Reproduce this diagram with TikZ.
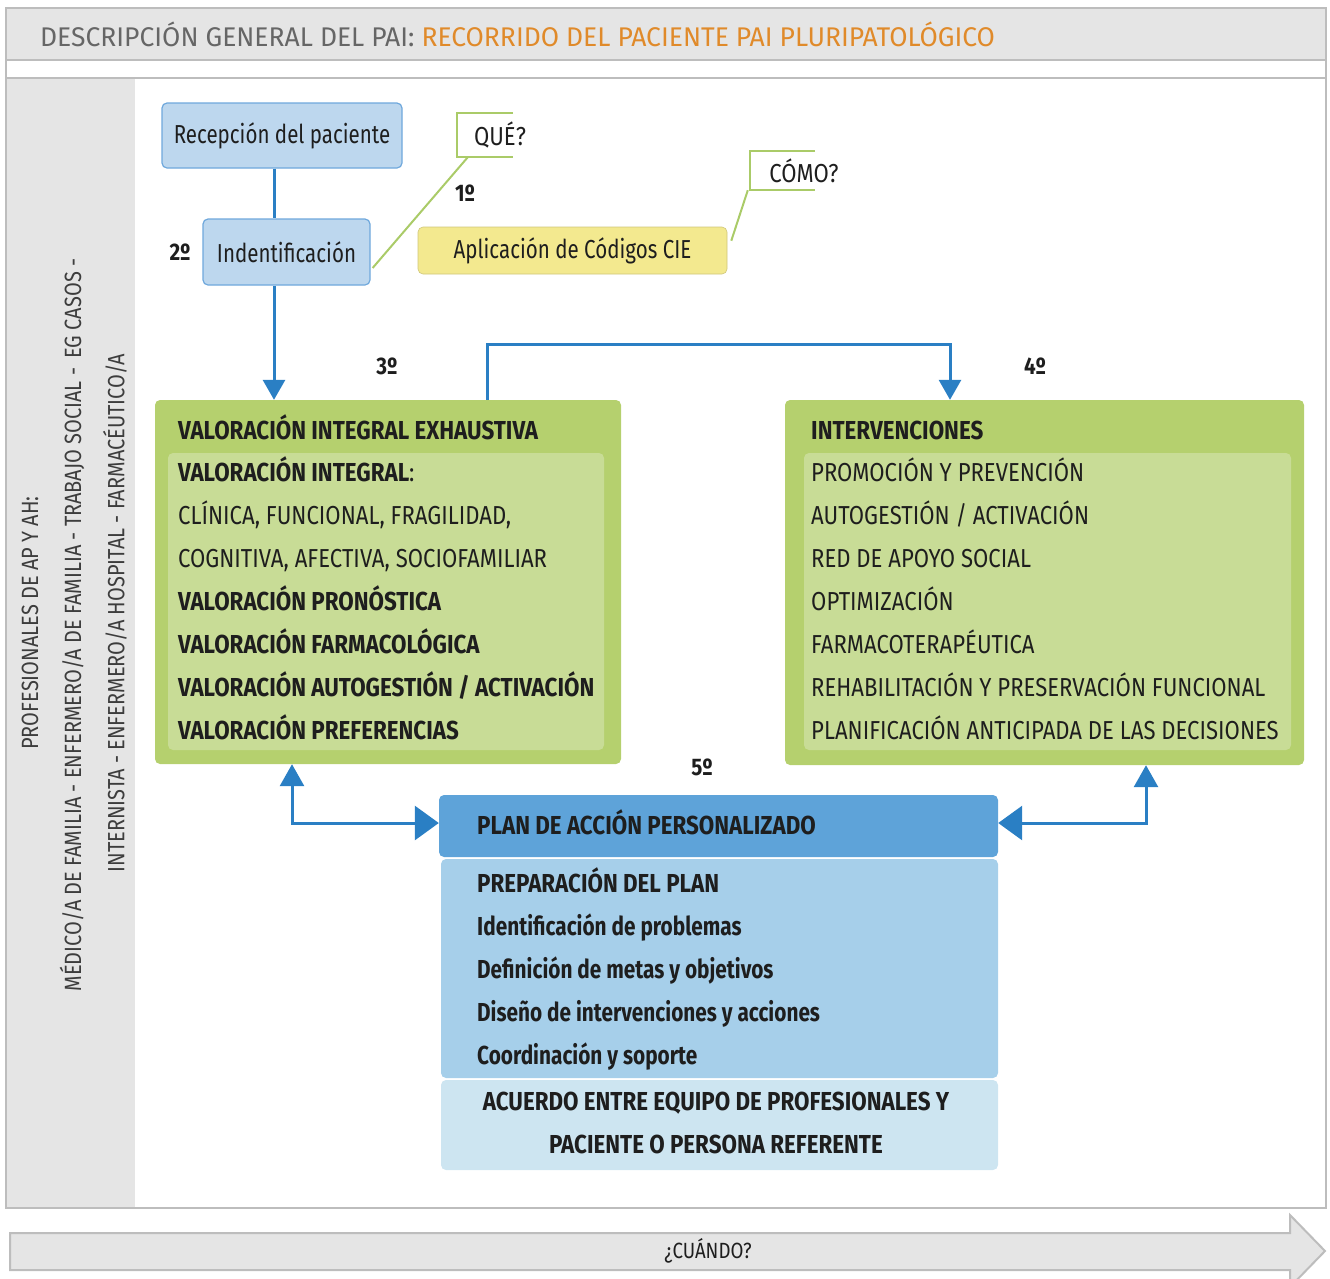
\documentclass[tikz,border=0pt]{standalone}
\usepackage{fontspec}
\setmainfont[FakeStretch=0.85,BoldFeatures={FakeStretch=0.86}]{Fira Sans}
\newfontfamily\headfont[FakeStretch=0.98]{Fira Sans}
\newfontfamily\lowfont[FakeStretch=0.79,BoldFeatures={FakeStretch=0.80}]{Fira Sans}
\usetikzlibrary{arrows.meta}

\definecolor{bandgray}{HTML}{E5E5E5}
\definecolor{framegray}{HTML}{BDBDBD}
\definecolor{titlegray}{HTML}{666666}
\definecolor{titleorange}{HTML}{E08A2A}
\definecolor{paleblue}{HTML}{BDD7EE}
\definecolor{boxline}{HTML}{6FA8DC}
\definecolor{linkblue}{HTML}{2A7FC4}
\definecolor{leafgreen}{HTML}{AACB68}
\definecolor{cieyellow}{HTML}{F3E98F}
\definecolor{outergreen}{HTML}{B5D06E}
\definecolor{innergreen}{HTML}{C8DC96}
\definecolor{plandark}{HTML}{5EA3D9}
\definecolor{planmid}{HTML}{A6CFEA}
\definecolor{planlight}{HTML}{CDE5F1}
\definecolor{inktext}{HTML}{1E1E1E}

\tikzset{
  box/.style={rounded corners=5pt, inner sep=0pt},
  bluebox/.style={box, fill=paleblue, draw=boxline, line width=1.2pt, minimum height=65pt, text=inktext, font=\lowfont\fontsize{26}{30}\selectfont},
  greenbox/.style={box, fill=outergreen},
  link/.style={draw=linkblue, line width=3pt},
  bracket/.style={draw=leafgreen, line width=2pt},
  item/.style={anchor=base west, inner sep=0pt, text=inktext, font=\fontsize{26}{30}\selectfont},
  ordinal/.style={inner sep=0pt, text=inktext, font=\bfseries\fontsize{24}{28}\selectfont},
  sidetext/.style={rotate=90, inner sep=0pt, text=titlegray!60!black, font=\fontsize{23.5}{27}\selectfont},
}

\begin{document}
\begin{tikzpicture}[x=1pt, y=-1pt]
  \useasboundingbox (0,0) rectangle (1330,1278);

  % frame and header
  \fill[bandgray] (6,8) rectangle (1326,60);
  \fill[bandgray] (6,78) rectangle (135,1208);
  \draw[framegray, line width=2.5pt] (6,8) rectangle (1326,1208);
  \draw[framegray, line width=2.5pt] (6,60) -- (1326,60);
  \draw[framegray, line width=1.5pt] (6,78) -- (1326,78);
  \node[anchor=west, inner sep=0pt, text=titlegray, font=\headfont\fontsize{27}{30}\selectfont] (title) at (40,34)
    {DESCRIPCIÓN GENERAL DEL PAI: \textcolor{titleorange}{RECORRIDO DEL PACIENTE PAI PLURIPATOLÓGICO}};

  % professionals
  \node[sidetext] (prof1) at (30,623) {PROFESIONALES DE AP Y AH:};
  \node[sidetext] (prof2) at (72,625) {MÉDICO/A DE FAMILIA - ENFERMERO/A DE FAMILIA - TRABAJO SOCIAL -\, EG CASOS -};
  \node[sidetext] (prof3) at (115,613) {INTERNISTA - ENFERMERO/A HOSPITAL - FARMACÉUTICO/A};

  % reception and identification
  \node[bluebox, minimum width=240pt] (recep) at (282,135.5) {Recepción del paciente};
  \node[bluebox, minimum width=167pt, minimum height=66pt] (ident) at (286.5,252) {Indentificación};
  \node[box, fill=cieyellow, draw=cieyellow!85!black, line width=0.6pt, minimum width=309pt, minimum height=47pt,
        text=inktext, font=\lowfont\fontsize{26}{30}\selectfont] (cie) at (572.5,250.5) {Aplicación de Códigos CIE};

  \node[minimum width=56pt, minimum height=44pt, inner sep=0pt] (queframe) at (485,135) {};
  \draw[bracket] (queframe.north east) -- (queframe.north west) -- (queframe.south west) -- (queframe.south east);
  \node[inner sep=0pt, text=inktext, font=\fontsize{26}{30}\selectfont] (que) at (500,135) {QUÉ?};
  \draw[bracket] ([xshift=11pt]queframe.south west) -- ([xshift=2pt,yshift=-16pt]ident.east);

  \node[minimum width=65pt, minimum height=39pt, inner sep=0pt] (comoframe) at (782.5,170.5) {};
  \draw[bracket] (comoframe.north east) -- (comoframe.north west) -- (comoframe.south west) -- (comoframe.south east);
  \node[inner sep=0pt, text=inktext, font=\fontsize{26}{30}\selectfont] (como) at (804,171) {CÓMO?};
  \draw[bracket] ([xshift=-2pt]comoframe.south west) -- ([xshift=4pt,yshift=-14pt]cie.north east);

  \node[ordinal] (step1) at (465,193) {1º};
  \node[ordinal] (step2) at (180,252) {2º};
  \node[ordinal] (step3) at (387,366) {3º};
  \node[ordinal] (step4) at (1035,366) {4º};
  \node[ordinal] (step5) at (702,767) {5º};

  % valuation
  \node[greenbox, minimum width=466pt, minimum height=364pt] (valbox) at (388,582) {};
  \node[box, fill=innergreen, minimum width=436pt, minimum height=297pt] (valinner) at (386,601.5) {};
  \foreach \txt [count=\i from 0] in {{\bfseries VALORACIÓN INTEGRAL EXHAUSTIVA}, {\bfseries VALORACIÓN INTEGRAL}:,
      {CLÍNICA, FUNCIONAL, FRAGILIDAD,}, {COGNITIVA, AFECTIVA, SOCIOFAMILIAR}, {\bfseries VALORACIÓN PRONÓSTICA},
      {\bfseries VALORACIÓN FARMACOLÓGICA}, {\bfseries VALORACIÓN AUTOGESTIÓN / ACTIVACIÓN}, {\bfseries VALORACIÓN PREFERENCIAS}}
    \node[item] (val\i) at (178, 439+42.9*\i) {\txt};

  % interventions
  \node[greenbox, minimum width=519pt, minimum height=365pt] (intbox) at (1044.5,582.5) {};
  \node[box, fill=innergreen, minimum width=487pt, minimum height=297pt] (intinner) at (1047.5,601.5) {};
  \foreach \txt [count=\i from 0] in {{\bfseries INTERVENCIONES}, PROMOCIÓN Y PREVENCIÓN, AUTOGESTIÓN / ACTIVACIÓN,
      RED DE APOYO SOCIAL, OPTIMIZACIÓN, FARMACOTERAPÉUTICA, REHABILITACIÓN Y PRESERVACIÓN FUNCIONAL,
      PLANIFICACIÓN ANTICIPADA DE LAS DECISIONES}
    \node[item] (int\i) at (811, 439+42.9*\i) {\txt};

  % action plan
  \node[box, fill=plandark, minimum width=559pt, minimum height=62pt] (plan) at (718.5,826) {};
  \node[item] (plantitle) at (477,834) {\bfseries PLAN DE ACCIÓN PERSONALIZADO};
  \node[box, fill=planmid, minimum width=557pt, minimum height=219pt] (prep) at (719.5,968.5) {};
  \node[item, font=\bfseries\fontsize{26}{30}\selectfont] (prep0) at (477,892) {PREPARACIÓN DEL PLAN};
  \foreach \txt [count=\i] in {Identificación de problemas, Definición de metas y objetivos,
      Diseño de intervenciones y acciones, Coordinación y soporte}
    \node[item, font=\lowfont\bfseries\fontsize{26}{30}\selectfont] (prep\i) at (477, 892+43*\i) {\txt};
  \node[box, fill=planlight, minimum width=557pt, minimum height=90pt] (acuerdo) at (719.5,1125) {};
  \node[inner sep=0pt, text=inktext, align=center, font=\bfseries\fontsize{26}{43}\selectfont] (acuerdotxt) at (716,1123)
    {ACUERDO ENTRE EQUIPO DE PROFESIONALES Y\\PACIENTE O PERSONA REFERENTE};

  % connectors
  \coordinate (trunk) at (274,0);
  \draw[link] (recep.south -| trunk) -- (ident.north -| trunk);
  \draw[link, -{Triangle[width=22pt,length=20pt]}] (ident.south -| trunk) -- (valbox.north -| trunk);
  \coordinate (bridgeL) at (487,344);
  \coordinate (bridgeR) at (950,344);
  \draw[link, -{Triangle[width=22pt,length=20pt]}] (valbox.north -| bridgeL) -- (bridgeL) -- (bridgeR) -- (intbox.north -| bridgeR);
  \coordinate (loopL) at (292,823);
  \coordinate (loopR) at (1146,823);
  \draw[link, {Triangle[width=24pt,length=22pt]}-{Triangle[width=34pt,length=24pt]}] (valbox.south -| loopL) -- (loopL) -- (plan.west |- loopL);
  \draw[link, {Triangle[width=24pt,length=22pt]}-{Triangle[width=34pt,length=24pt]}] (intbox.south -| loopR) -- (loopR) -- (plan.east |- loopR);

  % when
  \draw[fill=bandgray, draw=framegray, line width=2pt] (10,1233) -- (1290,1233) -- (1290,1215) -- (1325,1251)
    -- (1290,1287) -- (1290,1270) -- (10,1270) -- cycle;
  \node[inner sep=0pt, text=inktext, font=\fontsize{22}{26}\selectfont] (cuando) at (708,1251) {¿CUÁNDO?};
\end{tikzpicture}
\end{document}
